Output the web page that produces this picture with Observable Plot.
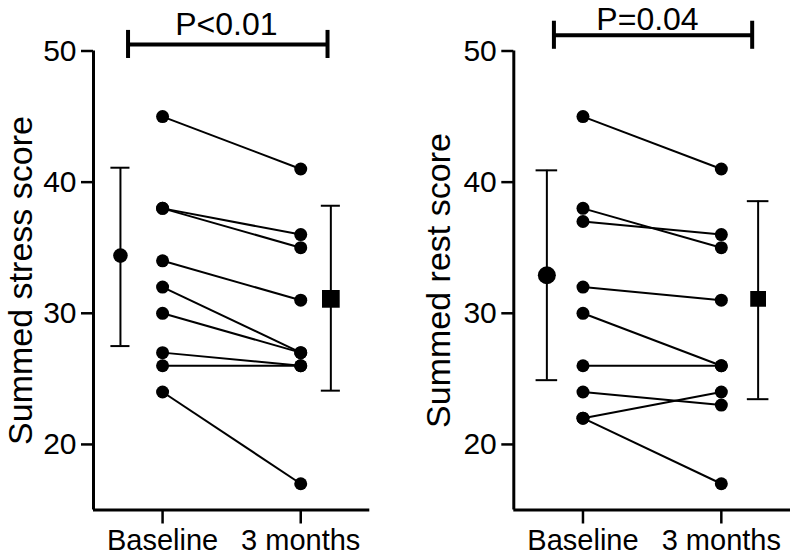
<!DOCTYPE html>
<html><head><meta charset="utf-8">
<script src="https://cdn.jsdelivr.net/npm/d3@7"></script>
<script src="https://cdn.jsdelivr.net/npm/@observablehq/plot@0.6"></script>
<style>
body{margin:0;background:#fff;}
#wrap{display:flex;width:791px;height:556px;overflow:hidden;background:#fff;}
svg{overflow:visible;display:block}
</style></head><body><div id="wrap"></div>
<script>
const categories = ["Baseline", "3 months"];
const yTicks = [20, 30, 40, 50];

// Summed stress score (paired patients)
const stressBaseline = [45, 38, 38, 34, 32, 30, 27, 26, 24];
const stressMonth3   = [41, 36, 35, 31, 27, 27, 26, 26, 17];
const stressMean = [34.4, 31.1];
const stressLow  = [27.5, 24.1];
const stressHigh = [41.1, 38.2];
const stressP = "P<0.01";

// Summed rest score (paired patients)
const restBaseline = [45, 38, 37, 32, 30, 26, 24, 22, 22];
const restMonth3   = [41, 35, 36, 31, 26, 26, 23, 24, 17];
const restMean = [32.9, 31.1];
const restLow  = [24.9, 23.45];
const restHigh = [40.9, 38.55];
const restP = "P=0.04";

const font = "'Liberation Sans', Arial, Helvetica, sans-serif";

function panel(o) {
  const pairs = o.base.map((b, i) => ({b, m: o.month[i]}));
  const pts = [...o.base.map(v => ({x: 1, y: v})), ...o.month.map(v => ({x: 2, y: v}))];
  const means = o.mean.map((v, i) => ({x: o.meanX[i], y: v, lo: o.lo[i], hi: o.hi[i]}));
  const caps = means.flatMap(d => [d.lo, d.hi].map(y => ({x1: d.x - o.cap, x2: d.x + o.cap, y})));
  const sig = [{x1: o.sigX[0], x2: o.sigX[1], y: o.sigY}];
  return Plot.plot({
    width: o.width, height: 556,
    marginTop: 50.5, marginBottom: 46.5, marginLeft: o.marginLeft, marginRight: o.marginRight,
    x: {domain: [0.5, 2.5]},
    y: {domain: [15, 50]},
    style: {fontFamily: font, color: "#000", background: "#fff", overflow: "visible"},
    marks: [
      Plot.axisY({ticks: yTicks, tickSize: 12, tickPadding: 5, fontSize: 30, strokeWidth: 2.5, label: null}),
      Plot.axisX({ticks: [1, 2], tickFormat: d => categories[d - 1], tickSize: 14, tickPadding: 5, fontSize: 29, strokeWidth: 2.5, label: null}),
      Plot.ruleX([0.5], {strokeWidth: 3}),
      Plot.ruleY([15], {strokeWidth: 3}),
      Plot.link(pairs, {x1: () => 1, x2: () => 2, y1: "b", y2: "m", strokeWidth: 2, stroke: "#000"}),
      Plot.dot(pts, {x: "x", y: "y", r: 6.5, fill: "#000"}),
      Plot.ruleX(means, {x: "x", y1: "lo", y2: "hi", strokeWidth: 2}),
      Plot.ruleY(caps, {x1: "x1", x2: "x2", y: "y", strokeWidth: 2}),
      Plot.dot(means.slice(0, 1), {x: "x", y: "y", r: o.meanR, fill: "#000"}),
      Plot.dot(means.slice(1), {x: "x", y: "y", r: o.squareR, symbol: "square", fill: "#000"}),
      Plot.ruleY(sig, {x1: "x1", x2: "x2", y: "y", strokeWidth: 4}),
      Plot.ruleX(sig.flatMap(d => [d.x1, d.x2].map(x => ({x, y1: d.y - 1.07, y2: d.y + 1.07}))), {x: "x", y1: "y1", y2: "y2", strokeWidth: 4}),
      Plot.text([o.p], {x: () => (o.sigX[0] + o.sigX[1]) / 2 - o.pShift, y: () => o.textY, text: d => d, fontSize: 32, lineAnchor: "bottom"}),
      Plot.text([o.label], {frameAnchor: "left", rotate: -90, dx: o.labelDx, fontSize: 34, lineAnchor: "bottom", textAnchor: "middle", text: d => d})
    ]
  });
}

const wrap = document.getElementById("wrap");
wrap.append(panel({
  width: 400, marginLeft: 93, marginRight: 30.7,
  base: stressBaseline, month: stressMonth3,
  mean: stressMean, lo: stressLow, hi: stressHigh,
  meanX: [0.695, 2.218], meanR: 7.3, squareR: 10, cap: 0.069,
  sigX: [0.75, 2.194], sigY: 50.5, textY: 51.25, pShift: 0.01, p: stressP,
  label: "Summed stress score", labelDx: -62
}));
wrap.append(panel({
  width: 391, marginLeft: 113.3, marginRight: 1,
  base: restBaseline, month: restMonth3,
  mean: restMean, lo: restLow, hi: restHigh,
  meanX: [0.739, 2.266], meanR: 9, squareR: 8.9, cap: 0.078,
  sigX: [0.79, 2.223], sigY: 51.2, textY: 51.6, pShift: 0.04, p: restP,
  label: "Summed rest score", labelDx: -64.3
}));
</script>
</body></html>
